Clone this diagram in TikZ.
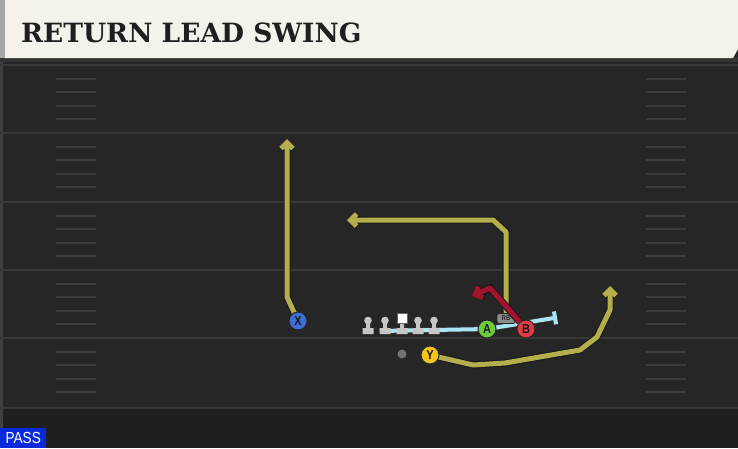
\documentclass[tikz,border=0pt]{standalone}
\usepackage{fontspec}
\usetikzlibrary{arrows.meta}
\newfontfamily\titlefont{DejaVu Serif}
\newfontfamily\labelfont{Liberation Sans}[FakeStretch=0.85]
\definecolor{fieldbg}{HTML}{262626}
\definecolor{yardline}{HTML}{383838}
\definecolor{hashgrey}{HTML}{3C3C3C}
\definecolor{bannerbg}{HTML}{F5F2EB}
\definecolor{routeyellow}{HTML}{B3AF4C}
\definecolor{routered}{HTML}{A3122E}
\definecolor{blockblue}{HTML}{A9E5F3}
\definecolor{xblue}{HTML}{3F6FD6}
\definecolor{agreen}{HTML}{6BCB3A}
\definecolor{bred}{HTML}{E23B45}
\definecolor{yyellow}{HTML}{F2C41C}
\definecolor{linegrey}{HTML}{C6C6C6}
\definecolor{passblue}{HTML}{0B2BDB}
\pgfdeclarelayer{back}
\pgfdeclarelayer{routes}
\pgfsetlayers{back,routes,main}
\tikzset{
 lineman/.pic={
  \fill[linegrey] (-5.5,8) rectangle (5.5,14) (-2,2) rectangle (2,9);
  \fill[linegrey] (0,0.5) circle (3.8);},
 stance/.pic={
  \fill[linegrey] (-5.5,8) rectangle (5.5,14) (-2,0) rectangle (2,9);}
}

\begin{document}
\begin{tikzpicture}[x=1pt,y=-1pt,
 player/.style={circle,draw=black!85,line width=1pt,minimum size=18pt,inner sep=0pt,
  font=\labelfont\bfseries\fontsize{13}{13}\selectfont,text=black!90},
 route/.style={draw=routeyellow,line width=5pt,line join=bevel,
  preaction={draw=black!90,line width=7pt},
  -{Straight Barb[length=6pt,width=12pt]}},
 redroute/.style={route,draw=routered},
 block/.style={draw=blockblue,line width=4pt,
  preaction={draw=black!80,line width=5.5pt},-{Bar[width=13pt]}},
 hash/.style={draw=hashgrey,line width=2pt}]
 \useasboundingbox (0,0) rectangle (738,448);
 \begin{pgfonlayer}{back}
 % field
 \fill[fieldbg] (0,0) rectangle (738,448);
 \fill[black!88] (0,409) rectangle (738,448);
 \fill[black!75] (0,61) rectangle (2.5,448);
 \foreach \L in {65,133,202,270,338,408}
  \draw[yardline,line width=2.5pt] (0,\L) -- (738,\L);
 \foreach \L in {65,133,202,270,338}
 {\foreach \k in {1,...,4}
  {\draw[hash] (56,\L+\k*13.6) -- (96,\L+\k*13.6);
   \draw[hash] (646,\L+\k*13.6) -- (686,\L+\k*13.6);}}
 % banner
 \fill[black!80] (0,57) rectangle (738,62);
 \fill[bannerbg] (5,0) -- (738,0) -- (738,49) -- (733,58) -- (5,58) -- cycle;
 \fill[black!35] (0,0) rectangle (5,58);
 \end{pgfonlayer}
 \node[anchor=base west,inner sep=0pt,text=black!88,
  font=\titlefont\bfseries\fontsize{26.5}{26.5}\selectfont] (title) at (21,42) {RETURN LEAD SWING};
 \node[fill=passblue,text=white,anchor=south west,minimum width=46pt,minimum height=20pt,
  inner sep=0pt,font=\labelfont\fontsize{16}{16}\selectfont] (pass) at (0,448) {PASS};

 % line
 \foreach \x in {368,385,418,434}
  \pic at (\x,320) {lineman};
 \pic at (402,320) {stance};
 \node[fill=white,draw=black!60,line width=0.5pt,minimum size=10pt,inner sep=0pt] (C) at (402,318.5) {};
 \node[circle,fill=black!55,minimum size=9pt,inner sep=0pt] (QB) at (402,354) {};

 % players
 \node[player,fill=xblue] (X) at (298,321) {X};
 \node[player,fill=agreen] (A) at (487,329) {A};
 \node[player,fill=bred] (B) at (526,329) {B};
 \node[player,fill=yyellow] (Y) at (430,355) {Y};
 \node[fill=black!45,draw=black!85,line width=0.8pt,rounded corners=2pt,minimum width=18pt,
  minimum height=10pt,inner sep=0pt,text=black!85,font=\labelfont\bfseries\fontsize{7}{7}\selectfont]
  (RB) at (506,318.5) {RB};
 \coordinate (blkL) at (380,331);
 \coordinate (blkR) at (557,317.5);

 \begin{pgfonlayer}{routes}
 \draw[block] (blkL) -- (A.center) -- (blkR);
 \draw[route] (X.center) -- (287,297) -- (287,139);
 \draw[route] (RB.center) -- (506,232) -- (493,220) -- (347,220);
 \draw[route] (Y.center) -- (473,365) -- (505,363) -- (580,350) -- (597,337) -- (610,310) -- (610,286);
 \end{pgfonlayer}
 \draw[redroute] (B) -- (490,288) -- (472,296);
\end{tikzpicture}
\end{document}
